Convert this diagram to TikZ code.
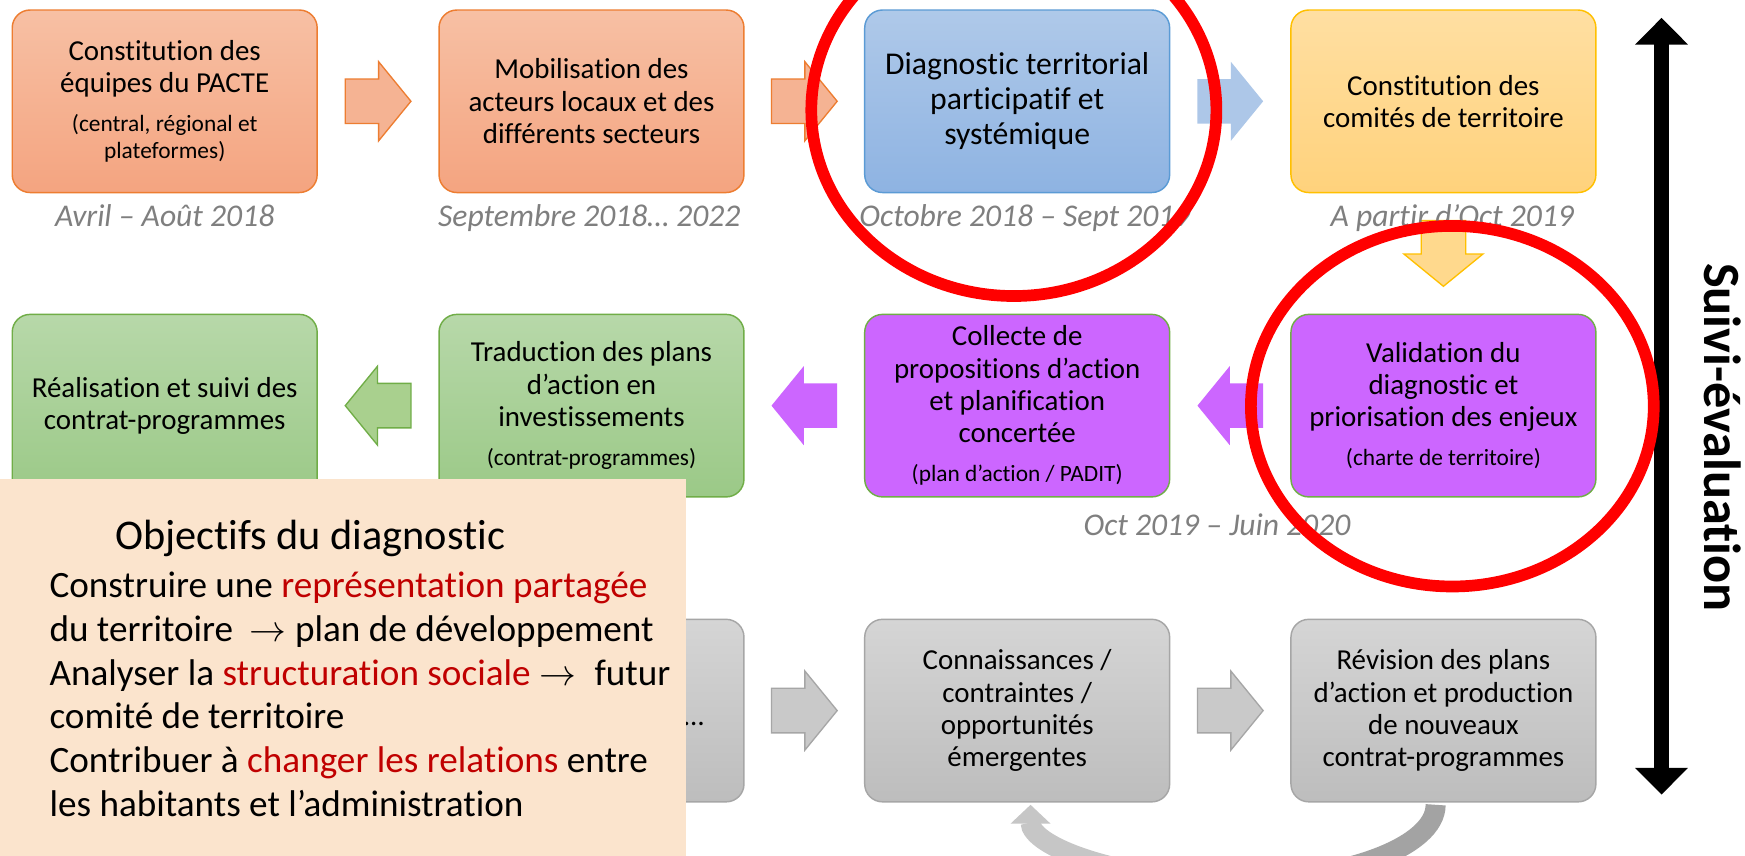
\documentclass[tikz,border=0pt]{standalone}
\usepackage{fontspec}
\setmainfont{Carlito}[Ligatures={NoCommon}]
\usetikzlibrary{arrows.meta,calc}
\definecolor{orT}{HTML}{F7C0A4}
\definecolor{orB}{HTML}{F4A480}
\definecolor{orL}{HTML}{ED7D31}
\definecolor{orA}{HTML}{F5B393}
\definecolor{blT}{HTML}{AFC9E9}
\definecolor{blB}{HTML}{8EB3E2}
\definecolor{blL}{HTML}{5B9BD5}
\definecolor{blA}{HTML}{ADC7E8}
\definecolor{yeT}{HTML}{FFDFA2}
\definecolor{yeB}{HTML}{FFD27C}
\definecolor{yeL}{HTML}{FFC000}
\definecolor{yeA}{HTML}{FFD98D}
\definecolor{grT}{HTML}{B7D8A9}
\definecolor{grB}{HTML}{9BC987}
\definecolor{grL}{HTML}{70AD47}
\definecolor{grA}{HTML}{A9D08E}
\definecolor{pu}{HTML}{CC66FF}
\definecolor{gyT}{HTML}{D5D5D5}
\definecolor{gyB}{HTML}{BDBDBD}
\definecolor{gyL}{HTML}{A6A6A6}
\definecolor{gyA}{HTML}{C9C9C9}
\definecolor{cvDark}{HTML}{A3A3A3}
\definecolor{cvLight}{HTML}{C6C6C6}
\definecolor{peach}{HTML}{FBE4CD}
\definecolor{dred}{HTML}{C00000}
\definecolor{dategray}{HTML}{7F7F7F}
\definecolor{ring}{HTML}{FF0000}
\newcommand\sm{\fontsize{21}{24}\selectfont}
\newcommand\rarr{\scalebox{1.33}{$\rightarrow$}}
\newcommand\barr[3]{\begin{scope}[shift={(#2)},rotate=#3]
  \path[#1] (-29.5,-20) -- (0.5,-20) -- (0.5,-35.5) -- (29.5,0) -- (0.5,35.5) -- (0.5,20) -- (-29.5,20) -- cycle;
\end{scope}}
\begin{document}
\begin{tikzpicture}[x=1pt,y=-1pt,
  box/.style={rounded corners=16pt, minimum width=274pt, minimum height=164pt,
    text width=262pt, inner xsep=6pt, inner ysep=0pt, align=flush center,
    line width=1.3pt, font=\fontsize{26}{29}\selectfont},
  obox/.style={box, draw=orL, top color=orT, bottom color=orB},
  bbox/.style={box, draw=blL, top color=blT, bottom color=blB, font=\fontsize{28.5}{31.5}\selectfont},
  ybox/.style={box, draw=yeL, top color=yeT, bottom color=yeB},
  gbox/.style={box, draw=grL, top color=grT, bottom color=grB},
  pbox/.style={box, draw=grL, fill=pu},
  gybox/.style={box, draw=gyL, top color=gyT, bottom color=gyB},
  oarr/.style={fill=orA, draw=orL, line width=1.2pt},
  barrw/.style={fill=blA},
  yarr/.style={fill=yeA, draw=yeL, line width=1.2pt},
  parr/.style={fill=pu},
  garr/.style={fill=grA, draw=grL, line width=1.2pt},
  gyarr/.style={fill=gyA, draw=gyL, line width=1.2pt},
  date/.style={anchor=base, text=dategray, font=\itshape\fontsize{28.4}{32}\selectfont},
  objline/.style={anchor=base west, font=\fontsize{33.4}{39}\selectfont},
  redring/.style={draw=ring, line width=10.5pt}
]
\useasboundingbox (0,0) rectangle (1568,769);
\clip (0,0) rectangle (1568,769);
\fill[white] (0,0) rectangle (1568,769);

% row 1
\node[obox] (b1) at (148,91) {Constitution des\\équipes du PACTE\par\vspace{11pt}{\sm (central, régional et\\plateformes)\par}};
\node[obox] (b2) at (531.5,91) {Mobilisation des\\acteurs locaux et des\\différents secteurs};
\node[bbox] (b3) at (914,91) {Diagnostic territorial\\participatif et\\systémique};
\node[ybox] (b4) at (1297,91) {Constitution des\\comités de territoire};

% row 2
\node[gbox] (c1) at (148,364.5) {Réalisation et suivi des\\contrat-programmes};
\node[gbox] (c2) at (531.5,364.5) {Traduction des plans\\d’action en\\investissements\par\vspace{11pt}{\sm (contrat-programmes)\par}};
\node[pbox] (c3) at (914,364.5) {Collecte de\\propositions d’action\\et planification\\concertée\par\vspace{11pt}{\sm (plan d’action / PADIT)\par}};
\node[pbox] (c4) at (1297,364.5) {Validation du\\diagnostic et\\priorisation des enjeux\par\vspace{11pt}{\sm (charte de territoire)\par}};

% row 3
\node[gybox] (d2) at (531.5,638.5) {};
\node[anchor=base east, font=\fontsize{26}{29}\selectfont] (d2t) at (636,652) {…};
\node[gybox] (d3) at (914,638.5) {Connaissances /\\contraintes /\\opportunités\\émergentes};
\node[gybox] (d4) at (1297,638.5) {Révision des plans\\d’action et production\\de nouveaux\\contrat-programmes};

% block arrows
\coordinate (a12) at ($(b1.east)!0.5!(b2.west)$);
\coordinate (a23) at ($(b2.east)!0.5!(b3.west)$);
\coordinate (a34) at ($(b3.east)!0.5!(b4.west)$);
\coordinate (a4d) at ($(b4.south)!0.5!(c4.north)$);
\coordinate (a43) at ($(c4.west)!0.5!(c3.east)$);
\coordinate (a32) at ($(c3.west)!0.5!(c2.east)$);
\coordinate (a21) at ($(c2.west)!0.5!(c1.east)$);
\coordinate (e23) at ($(d2.east)!0.5!(d3.west)$);
\coordinate (e34) at ($(d3.east)!0.5!(d4.west)$);
\barr{oarr}{a12}{0}
\barr{oarr}{a23}{0}
\barr{barrw}{a34}{0}
\barr{yarr}{a4d}{-90}
\barr{parr}{a43}{180}
\barr{parr}{a32}{180}
\barr{garr}{a21}{180}
\barr{gyarr}{e23}{0}
\barr{gyarr}{e34}{0}

% dates
\node[date] (t1) at ($(b1.south)+(0,29.6)$) {Avril – Août 2018};
\node[date] (t2) at ($(b2.south)+(-2,29.6)$) {Septembre 2018… 2022};
\node[date] (t3) at ($(b3.south)+(7,29.6)$) {Octobre 2018 – Sept 2019};
\node[date] (t4) at ($(b4.south)+(8,29.6)$) {A partir d’Oct 2019};
\node[date] (t5) at ($(c3.south)!0.5!(c4.south)+(-12,34)$) {Oct 2019 – Juin 2020};

% curved feedback arrow
\coordinate (cs) at ($(d4.south)+(-7,2)$);
\draw[line width=18pt, draw=cvDark] (cs) arc[start angle=0, end angle=90, x radius=182, y radius=68];
\coordinate (cm) at ($(cs)+(-182,68)$);
\draw[line width=18pt, draw=cvLight, -{Triangle[length=17pt,width=35pt]}] (cm) arc[start angle=90, end angle=180, x radius=182, y radius=68];

% suivi-evaluation arrow
\coordinate (sa) at (1493,16);
\coordinate (sb) at (1493,714);
\draw[line width=13pt, {Triangle[length=24pt,width=46pt]}-{Triangle[length=24pt,width=46pt]}] (sa) -- (sb);
\node[rotate=-90, font=\bfseries\fontsize{47}{54}\selectfont] (suivi) at (1548,393) {Suivi-évaluation};

% objectives overlay
\node[fill=peach, inner sep=0pt, minimum width=616pt, minimum height=339pt, anchor=north west] (obj) at (0,430) {};
\node[anchor=base west, font=\fontsize{38}{44}\selectfont] (ot) at (100,494) {Objectifs du diagnostic};
\node[objline] (o1) at (41,537) {Construire une \textcolor{dred}{représentation partagée}};
\node[objline] (o2) at (41,576.5) {du territoire\hspace{0.45em}\rarr\ plan de développement};
\node[objline] (o3) at (41,616) {Analyser la \textcolor{dred}{structuration sociale} \rarr\hspace{0.5em}futur};
\node[objline] (o4) at (41,655) {comité de territoire};
\node[objline] (o5) at (41,694.5) {Contribuer à \textcolor{dred}{changer les relations} entre};
\node[objline] (o6) at (41,734) {les habitants et l’administration};

% red rings
\draw[redring] ($(b3.center)+(-3,8)$) ellipse [x radius=182, y radius=167];
\draw[redring] ($(c4.center)+(8,0.5)$) ellipse [x radius=181, y radius=162];
\end{tikzpicture}
\end{document}
